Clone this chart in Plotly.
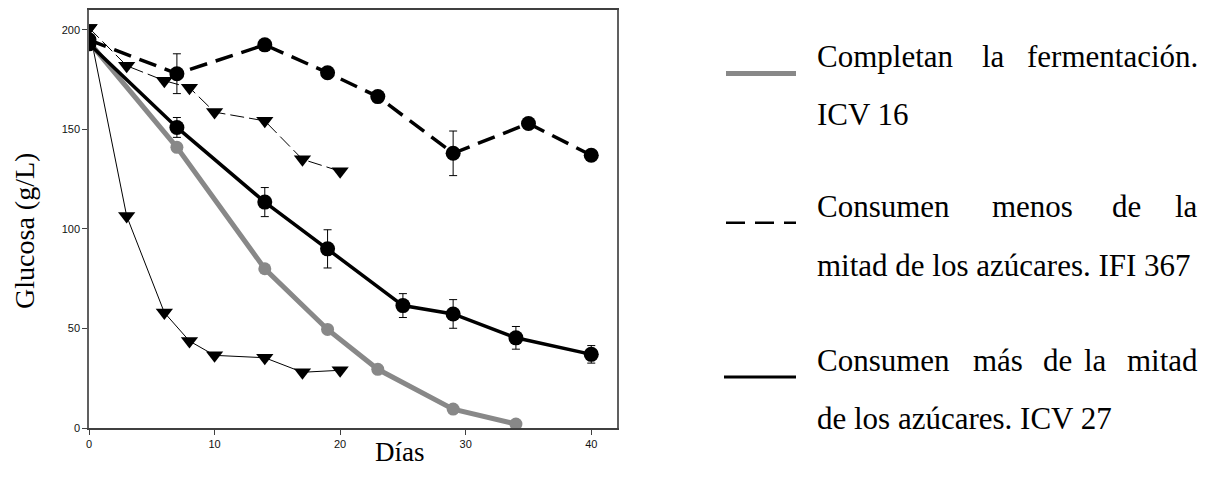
import plotly.graph_objects as go

# ---------------- data ----------------
days_icv16 = [0, 7, 14, 19, 23, 29, 34]
gluc_icv16 = [194, 141, 80, 49.5, 29.5, 9.5, 2]

days_icv27 = [0, 7, 14, 19, 25, 29, 34, 40]
gluc_icv27 = [193, 151, 113.5, 90, 61.5, 57.3, 45.3, 37]
err_icv27 = [0, 5, 7.3, 9.6, 6, 7.2, 5.7, 4.4]

days_ifi367 = [0, 7, 14, 19, 23, 29, 35, 40]
gluc_ifi367 = [195, 178, 192.5, 178.5, 166.5, 138, 153, 137]
err_ifi367 = [0, 10, 0, 0, 0, 11.2, 0, 0]

days_tri_a = [0, 3, 6, 8, 10, 14, 17, 20]
gluc_tri_a = [201, 182, 174.5, 171, 158.7, 154.3, 135, 129]

days_tri_b = [0, 3, 6, 8, 10, 14, 17, 20]
gluc_tri_b = [201, 106.5, 58, 43.7, 36.5, 35.3, 28, 29]

x_ticks = [0, 10, 20, 30, 40]
y_ticks = [0, 50, 100, 150, 200]

legend_lines = [
    [["Completan", "la", "fermentación."], ["ICV 16"]],
    [["Consumen", "menos", "de", "la"], ["mitad de los azúcares. IFI 367"]],
    [["Consumen", "más", "de", "la", "mitad"], ["de los azúcares. ICV 27"]],
]

# ---------------- layout geometry (pixels) ----------------
W, H = 1212, 477
L, R, T, B = 89, 617, 8, 428
PW, PH = R - L, B - T


def px(xp):
    return (xp - L) / PW


def py(yp):
    return (B - yp) / PH


fig = go.Figure()

fig.add_trace(go.Scatter(
    x=days_tri_b, y=gluc_tri_b, mode="lines+markers",
    line=dict(color="black", width=1),
    marker=dict(symbol="triangle-down", size=15, color="black"),
    showlegend=False))

fig.add_trace(go.Scatter(
    x=days_tri_a, y=gluc_tri_a, mode="lines+markers",
    line=dict(color="black", width=1, dash="14px,5px"),
    marker=dict(symbol="triangle-down", size=15, color="black"),
    showlegend=False))

fig.add_trace(go.Scatter(
    x=days_icv16, y=gluc_icv16, mode="lines+markers",
    line=dict(color="#888888", width=5),
    marker=dict(symbol="circle", size=13, color="#888888"),
    showlegend=False))

fig.add_trace(go.Scatter(
    x=days_ifi367, y=gluc_ifi367, mode="lines+markers",
    line=dict(color="black", width=3.5, dash="18px,9px"),
    marker=dict(symbol="circle", size=15, color="black"),
    error_y=dict(type="data", array=err_ifi367, color="black",
                 thickness=1, width=4),
    showlegend=False))

fig.add_trace(go.Scatter(
    x=days_icv27, y=gluc_icv27, mode="lines+markers",
    line=dict(color="black", width=3.5),
    marker=dict(symbol="circle", size=15, color="black"),
    error_y=dict(type="data", array=err_icv27, color="black",
                 thickness=1, width=4),
    showlegend=False))

# ---------------- legend drawn manually ----------------
shapes = []
shapes.append(dict(type="line", xref="paper", yref="paper",
                   x0=px(726), x1=px(796), y0=py(71.7), y1=py(71.7),
                   line=dict(color="#888888", width=5)))
shapes.append(dict(type="line", xref="paper", yref="paper",
                   x0=px(726), x1=px(796), y0=py(221.7), y1=py(221.7),
                   line=dict(color="black", width=2.5, dash="19px,10px")))
shapes.append(dict(type="line", xref="paper", yref="paper",
                   x0=px(724), x1=px(796), y0=py(376.7), y1=py(376.7),
                   line=dict(color="black", width=3)))

serif = "Liberation Serif"
fs = 31
ann = []
baselines = [(63.5, 122), (214, 274), (369, 427)]
word_centers = [
    [None, 993.5, None],
    [None, 1032.5, 1126, None],
    [None, 997.5, 1057.5, 1095, None],
]
for (first, second), (b1, b2), centers in zip(legend_lines, baselines, word_centers):
    n = len(first)
    for i, w in enumerate(first):
        if i == 0:
            xa, xpix = "left", 815
        elif i == n - 1:
            xa, xpix = "right", 1200
        else:
            xa, xpix = "center", centers[i]
        ann.append(dict(text=w, xref="paper", yref="paper", x=px(xpix),
                        y=py(b1 - 9), xanchor=xa, yanchor="middle",
                        showarrow=False, font=dict(family=serif, size=fs, color="black")))
    ann.append(dict(text=second[0], xref="paper", yref="paper", x=px(815),
                    y=py(b2 - 9), xanchor="left", yanchor="middle",
                    showarrow=False, font=dict(family=serif, size=fs, color="black")))

# axis titles
ann.append(dict(text="Días", xref="paper", yref="paper", x=px(400), y=py(452),
                xanchor="center", yanchor="middle", showarrow=False,
                font=dict(family=serif, size=27, color="black")))
ann.append(dict(text="Glucosa (g/L)", xref="paper", yref="paper", x=px(25), y=py(230),
                xanchor="center", yanchor="middle", textangle=-90, showarrow=False,
                font=dict(family=serif, size=28, color="black")))

axis_common = dict(
    showline=True, linewidth=1.5, mirror=True,
    ticks="outside", ticklen=5, tickwidth=1, tickcolor="#404040",
    showgrid=False, zeroline=False,
    tickfont=dict(family="Liberation Sans", size=11, color="#111111"),
)

fig.update_layout(
    width=W, height=H,
    margin=dict(l=L, r=W - R, t=T, b=H - B, pad=0),
    paper_bgcolor="white", plot_bgcolor="white",
    xaxis=dict(range=[0, 42.05], tickvals=x_ticks, linecolor="#404040", **axis_common),
    yaxis=dict(range=[0, 210], tickvals=y_ticks, linecolor="#606060", **axis_common),
    shapes=shapes, annotations=ann,
    showlegend=False,
)

fig.write_html("out.html")
